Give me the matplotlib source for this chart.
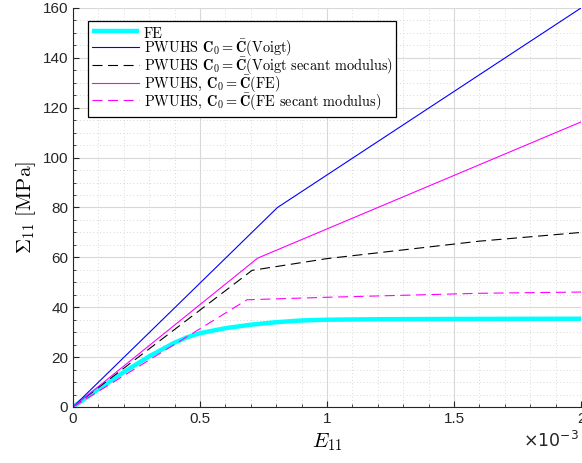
import numpy as np
import matplotlib
matplotlib.use("Agg")
import matplotlib.pyplot as plt
from matplotlib.ticker import MultipleLocator

plt.rcParams['mathtext.fontset'] = 'cm'
plt.rcParams['font.family'] = ['Liberation Sans', 'DejaVu Sans']
plt.rcParams['axes.unicode_minus'] = False

# strain in units of 1e-3, stress in MPa
fe_x = [0, 0.1, 0.2, 0.3, 0.4, 0.45, 0.5, 0.6, 0.7, 0.8, 0.9, 1.0, 1.2, 1.5, 2.0]
fe_y = [0, 7.2, 14.0, 20.3, 25.8, 28.0, 29.6, 31.6, 33.0, 34.0, 34.7, 35.0, 35.2, 35.3, 35.4]

voigt_x = [0, 0.805, 2.0]
voigt_y = [0, 80.0, 160.0]

voigt_sec_x = [0, 0.705, 1.0, 1.6, 2.0]
voigt_sec_y = [0, 54.8, 59.5, 66.5, 70.0]

fe_c_x = [0, 0.727, 2.0]
fe_c_y = [0, 59.7, 114.3]

fe_sec_x = [0, 0.685, 1.0, 1.6, 2.0]
fe_sec_y = [0, 43.0, 44.0, 45.6, 46.1]

labels = [
    "FE",
    r"PWUHS $\mathbf{C}_0=\bar{\mathbf{C}}$(Voigt)",
    r"PWUHS $\mathbf{C}_0=\bar{\mathbf{C}}$(Voigt secant modulus)",
    r"PWUHS, $\mathbf{C}_0=\bar{\mathbf{C}}$(FE)",
    r"PWUHS, $\mathbf{C}_0=\bar{\mathbf{C}}$(FE secant modulus)",
]

fig = plt.figure(figsize=(5.82, 4.63), dpi=100)
ax = fig.add_axes([73/582, 1-407/463, 508/582, 399/463])

ax.plot(fe_x, fe_y, color='#00FFFF', lw=3.2, label=labels[0], solid_capstyle='butt')
ax.plot(voigt_x, voigt_y, color='#0000FF', lw=0.8, label=labels[1])
ax.plot(voigt_sec_x, voigt_sec_y, color='black', lw=0.8, ls=(0, (9, 5)), label=labels[2])
ax.plot(fe_c_x, fe_c_y, color='#FF00FF', lw=0.8, label=labels[3])
ax.plot(fe_sec_x, fe_sec_y, color='#FF00FF', lw=0.8, ls=(0, (9, 5)), label=labels[4])

ax.set_xlim(0, 2)
ax.set_ylim(0, 160)
ax.xaxis.set_minor_locator(MultipleLocator(0.1))
ax.yaxis.set_major_locator(MultipleLocator(20))
ax.yaxis.set_minor_locator(MultipleLocator(5))
ax.set_xticks([0, 0.5, 1, 1.5, 2])
ax.set_xticklabels(['0', '0.5', '1', '1.5', '2'])

ax.grid(which='major', color='#d8d8d8', lw=0.8)
ax.grid(which='minor', color='#cccccc', lw=0.6, ls=(0, (1, 3)))
ax.set_axisbelow(True)
for s in ['top', 'right']:
    ax.spines[s].set_visible(False)
for s in ['left', 'bottom']:
    ax.spines[s].set_color('#262626')
    ax.spines[s].set_linewidth(0.8)
ax.tick_params(which='both', direction='in', colors='#262626', labelsize=11)
ax.tick_params(which='major', length=4)
ax.tick_params(which='minor', length=2)

ax.set_xlabel(r"$E_{11}$", fontsize=15, labelpad=4)
ax.set_ylabel(r"$\Sigma_{11}\ [\mathrm{MPa}]$", fontsize=15, labelpad=3)
fig.text(579/582, 1-440/463, r"$\times10^{-3}$", fontsize=12.5, color='#262626',
         ha='right', va='center', family='Liberation Sans',
         math_fontfamily='dejavusans')

leg = ax.legend(loc='upper left', bbox_to_anchor=((88-73)/508, (407-21)/399),
                borderaxespad=0, prop={'family': 'cmr10', 'size': 10.3},
                frameon=True, fancybox=False,
                edgecolor='black', handlelength=3.3, handleheight=1.45,
                labelspacing=-0.24, handletextpad=0.35, borderpad=0.25)
leg.get_frame().set_linewidth(0.9)
leg.get_frame().set_alpha(1)

fig.savefig('out.png', dpi=100)
